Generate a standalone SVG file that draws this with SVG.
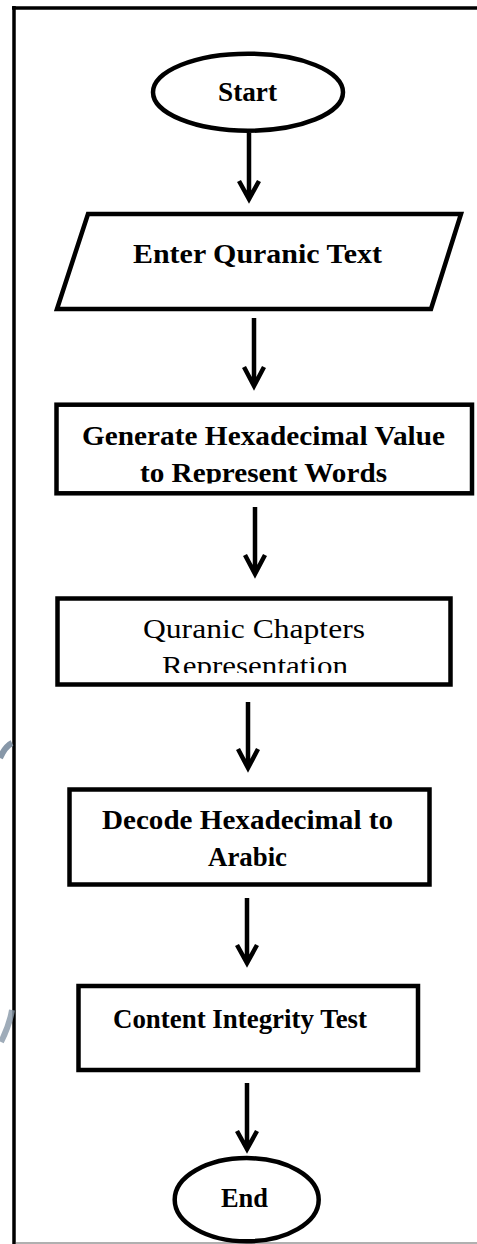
<svg xmlns="http://www.w3.org/2000/svg" width="477" height="1244" viewBox="0 0 477 1244">
<style>
.sh{fill:#fff;stroke:#000;stroke-width:4.5}
.ln{fill:none;stroke:#000;stroke-width:4.5;stroke-linejoin:miter;stroke-miterlimit:10}
.t{font-family:"Liberation Serif","Times New Roman",serif;font-size:27px;font-weight:bold;fill:#000}
.n{font-weight:normal}
.wm{fill:none;stroke:#8797a8;stroke-width:6}
</style>
<defs>
<clipPath id="c1"><rect x="0" y="0" width="477" height="483.5"/></clipPath>
<clipPath id="c2"><rect x="0" y="0" width="477" height="673"/></clipPath>
</defs>
<rect width="477" height="1244" fill="#fff"/>
<g id="frame">
<line x1="14" y1="6" x2="14" y2="1244" stroke="#000" stroke-width="3.5"/>
<line x1="12" y1="8" x2="477" y2="8" stroke="#000" stroke-width="3.5"/>
<line x1="16" y1="1243" x2="477" y2="1243" stroke="#b0b0b0" stroke-width="2"/>
<path class="wm" d="M0,758 C4,749 8,745 12,743"/>
<path class="wm" d="M1,1042 C6,1032 10,1022 12,1010" opacity="0.8"/>
</g>
<g id="connectors">
<path class="ln" d="M249,133 V199 M239,181 L249,199 L259,181"/>
<path class="ln" d="M254,318 V386 M244,367 L254,386 L264,367"/>
<path class="ln" d="M255,507 V574 M245,555 L255,574 L265,555"/>
<path class="ln" d="M248,702 V768 M238,749 L248,768 L258,749"/>
<path class="ln" d="M247,898 V963 M237,945 L247,963 L257,945"/>
<path class="ln" d="M247,1083 V1149 M237,1131 L247,1149 L257,1131"/>
</g>
<g id="start">
<ellipse class="sh" cx="248" cy="92.2" rx="95" ry="38.5"/>
<text class="t" x="218" y="101" textLength="59" lengthAdjust="spacingAndGlyphs">Start</text>
</g>
<g id="input">
<polygon class="sh" points="88,214 461,214 431,309 57,309"/>
<text class="t" x="133" y="263" textLength="249" lengthAdjust="spacingAndGlyphs">Enter Quranic  Text</text>
</g>
<g id="generate">
<rect class="sh" x="56.5" y="404.7" width="415.5" height="88.6"/>
<text class="t" x="82" y="445" textLength="363" lengthAdjust="spacingAndGlyphs">Generate Hexadecimal Value</text>
<text class="t" x="140" y="482" textLength="247" lengthAdjust="spacingAndGlyphs" clip-path="url(#c1)">to Represent Words</text>
</g>
<g id="chapters">
<rect class="sh" x="57.5" y="598.5" width="393" height="86"/>
<text class="t n" x="143" y="638" textLength="222" lengthAdjust="spacingAndGlyphs">Quranic  Chapters</text>
<text class="t n" x="162" y="675" textLength="186" lengthAdjust="spacingAndGlyphs" clip-path="url(#c2)">Representation</text>
</g>
<g id="decode">
<rect class="sh" x="69.5" y="789.5" width="360" height="95"/>
<text class="t" x="102" y="829" textLength="291" lengthAdjust="spacingAndGlyphs">Decode Hexadecimal  to</text>
<text class="t" x="208" y="866" textLength="79" lengthAdjust="spacingAndGlyphs">Arabic</text>
</g>
<g id="integrity">
<rect class="sh" x="78.5" y="986" width="339.5" height="84"/>
<text class="t" x="113" y="1028" textLength="254" lengthAdjust="spacingAndGlyphs">Content  Integrity  Test</text>
</g>
<g id="end">
<ellipse class="sh" cx="246.7" cy="1199.7" rx="72" ry="41.6"/>
<text class="t" x="221" y="1207" textLength="47" lengthAdjust="spacingAndGlyphs">End</text>
</g>
</svg>
